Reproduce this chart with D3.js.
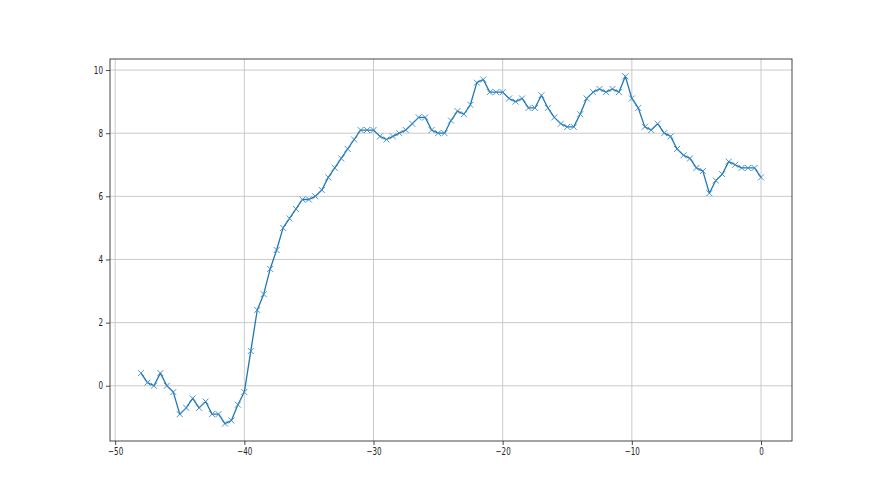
<!DOCTYPE html>
<html>
<head>
<meta charset="utf-8">
<script src="https://cdn.jsdelivr.net/npm/d3@7"></script>
<style>
  body { margin: 0; background: #fff; }
  text { font-family: "DejaVu Sans", sans-serif; }
</style>
</head>
<body>
<script>
// x positions: -48 .. 0 in half steps
var xs = [-48,-47.5,-47,-46.5,-46,-45.5,-45,-44.5,-44,-43.5,-43,-42.5,-42,-41.5,-41,-40.5,-40,
  -39.5,-39,-38.5,-38,-37.5,-37,-36.5,-36,-35.5,-35,-34.5,-34,-33.5,-33,-32.5,-32,-31.5,-31,-30.5,-30,
  -29.5,-29,-28.5,-28,-27.5,-27,-26.5,-26,-25.5,-25,-24.5,-24,-23.5,-23,-22.5,-22,-21.5,-21,-20.5,-20,
  -19.5,-19,-18.5,-18,-17.5,-17,-16.5,-16,-15.5,-15,-14.5,-14,-13.5,-13,-12.5,-12,-11.5,-11,-10.5,-10,
  -9.5,-9,-8.5,-8,-7.5,-7,-6.5,-6,-5.5,-5,-4.5,-4,-3.5,-3,-2.5,-2,-1.5,-1,-0.5,0];

var ys = [0.4,0.1,0.0,0.4,0.0,-0.2,-0.9,-0.7,-0.4,-0.7,-0.5,-0.9,-0.9,-1.2,-1.1,-0.6,-0.2,
  1.1,2.4,2.9,3.7,4.3,5.0,5.3,5.6,5.9,5.9,6.0,6.2,6.6,6.9,7.2,7.5,7.8,8.1,8.1,8.1,
  7.9,7.8,7.9,8.0,8.1,8.3,8.5,8.5,8.1,8.0,8.0,8.4,8.7,8.6,8.9,9.6,9.7,9.3,9.3,9.3,
  9.1,9.0,9.1,8.8,8.8,9.2,8.8,8.5,8.3,8.2,8.2,8.6,9.1,9.3,9.4,9.3,9.4,9.3,9.8,9.1,
  8.8,8.2,8.1,8.3,8.0,7.9,7.5,7.3,7.2,6.9,6.8,6.1,6.5,6.7,7.1,7.0,6.9,6.9,6.9,6.6];

var xTicks = [-50, -40, -30, -20, -10, 0];
var yTicks = [0, 2, 4, 6, 8, 10];

var W = 880, H = 495;
var pl = 110, pr = 792, pt = 59, pb = 441;
var sx = 0.72; // labels look horizontally squeezed

var svg = d3.select("body").append("svg")
    .attr("width", W)
    .attr("height", H);

// matplotlib style 5% margins
var xMin = d3.min(xs), xMax = d3.max(xs);
var yMin = d3.min(ys), yMax = d3.max(ys);
var xPad = (xMax - xMin) * 0.05, yPad = (yMax - yMin) * 0.05;

var x = d3.scaleLinear().domain([xMin - xPad, xMax + xPad]).range([pl, pr]);
var y = d3.scaleLinear().domain([yMin - yPad, yMax + yPad]).range([pb, pt]);

// grid
svg.append("g").selectAll("line").data(xTicks).enter().append("line")
    .attr("x1", d => x(d)).attr("x2", d => x(d))
    .attr("y1", pt).attr("y2", pb)
    .attr("stroke", "#c4c4c4").attr("stroke-width", 0.9);
svg.append("g").selectAll("line").data(yTicks).enter().append("line")
    .attr("x1", pl).attr("x2", pr)
    .attr("y1", d => y(d)).attr("y2", d => y(d))
    .attr("stroke", "#c4c4c4").attr("stroke-width", 0.9);

// axes
var xAxis = d3.axisBottom(x).tickValues(xTicks).tickSizeOuter(0).tickSize(4).tickPadding(3)
    .tickFormat(d => d < 0 ? "\u2212" + Math.abs(d) : d);
var yAxis = d3.axisLeft(y).tickValues(yTicks).tickSizeOuter(0).tickSize(4).tickPadding(3);

var gx = svg.append("g").attr("transform", "translate(0," + pb + ")").call(xAxis);
var gy = svg.append("g").attr("transform", "translate(" + pl + ",0)").call(yAxis);
[gx, gy].forEach(function(g) {
  g.select(".domain").remove();
  g.selectAll("text").attr("font-size", 10).attr("fill", "#222")
    .style("font-family", "DejaVu Sans, sans-serif")
    .attr("transform", "scale(" + sx + ",1)");
  g.selectAll(".tick line").attr("stroke", "#333").attr("stroke-width", 0.9);
});
gy.selectAll("text").attr("x", -7 / sx);

// line + markers
var pts = xs.map((d, i) => [d, ys[i]]);
var line = d3.line().x(d => x(d[0])).y(d => y(d[1]));

svg.append("path")
    .datum(pts)
    .attr("d", line)
    .attr("fill", "none")
    .attr("stroke", "#1f77b4")
    .attr("stroke-width", 1.3)
    .attr("stroke-linejoin", "round");

var m = 3;
svg.append("g").selectAll("path").data(pts).enter().append("path")
    .attr("d", d => {
      var px = x(d[0]), py = y(d[1]);
      return "M" + (px - m) + "," + (py - m) + "L" + (px + m) + "," + (py + m) +
             "M" + (px - m) + "," + (py + m) + "L" + (px + m) + "," + (py - m);
    })
    .attr("stroke", "#3a8ac4")
    .attr("stroke-width", 0.9)
    .attr("fill", "none");

// frame
svg.append("rect")
    .attr("x", pl).attr("y", pt)
    .attr("width", pr - pl).attr("height", pb - pt)
    .attr("fill", "none")
    .attr("stroke", "#333")
    .attr("stroke-width", 0.9);
</script>
</body>
</html>
